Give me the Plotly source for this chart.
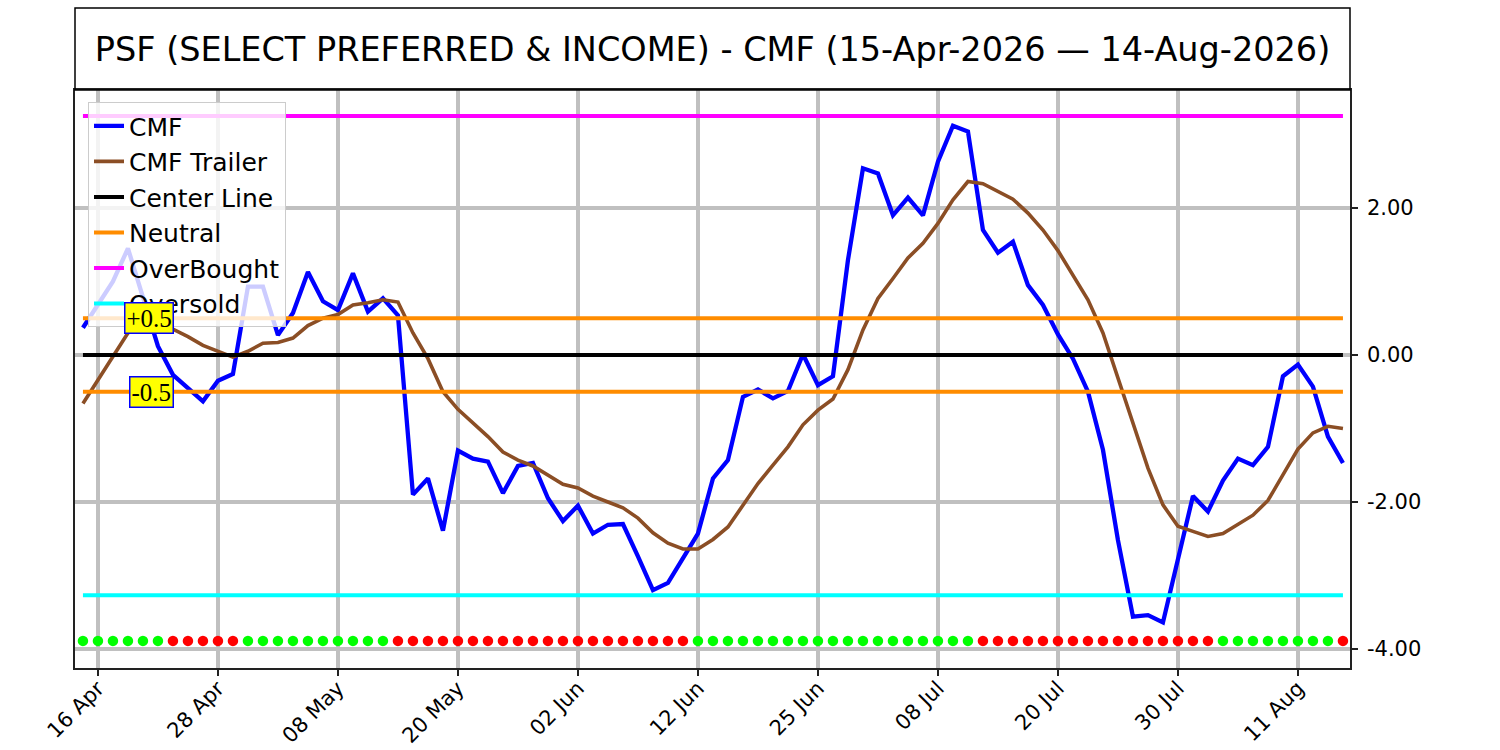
import pandas as pd
import plotly.graph_objects as go

# ---------------- data ----------------
START_DATE = "2026-04-15"
END_DATE = "2026-08-14"
HOLIDAYS = ["2026-05-25", "2026-06-19", "2026-07-03"]

TICK_DATES = ["2026-04-16", "2026-04-28", "2026-05-08", "2026-05-20", "2026-06-02",
              "2026-06-12", "2026-06-25", "2026-07-08", "2026-07-20", "2026-07-30",
              "2026-08-11"]
TICK_LABELS = ["16 Apr", "28 Apr", "08 May", "20 May", "02 Jun", "12 Jun",
               "25 Jun", "08 Jul", "20 Jul", "30 Jul", "11 Aug"]

Y_TICKS = [-4, -2, 0, 2]
Y_TICK_LABELS = ["-4.00", "-2.00", "0.00", "2.00"]

CMF = [0.37, 0.68, 1.00, 1.45, 0.78, 0.12, -0.27, -0.45, -0.63, -0.35,
       -0.26, 0.93, 0.93, 0.27, 0.57, 1.13, 0.73, 0.61, 1.11, 0.59,
       0.77, 0.54, -1.90, -1.68, -2.39, -1.30, -1.41, -1.45, -1.88, -1.51,
       -1.47, -1.95, -2.26, -2.05, -2.43, -2.31, -2.30, -2.74, -3.20, -3.10,
       -2.77, -2.43, -1.68, -1.43, -0.57, -0.47, -0.59, -0.49, 0.01, -0.41,
       -0.29, 1.29, 2.54, 2.47, 1.90, 2.14, 1.90, 2.63, 3.12, 3.04,
       1.70, 1.39, 1.54, 0.95, 0.68, 0.28, -0.05, -0.50, -1.29, -2.52,
       -3.56, -3.54, -3.64, -2.81, -1.92, -2.13, -1.71, -1.41, -1.50, -1.25,
       -0.29, -0.13, -0.43, -1.11, -1.47]

CMF_TRAILER = [-0.66, -0.34, -0.02, 0.30, 0.38, 0.41, 0.35, 0.25, 0.13, 0.05,
               -0.03, 0.05, 0.16, 0.17, 0.23, 0.40, 0.50, 0.55, 0.68, 0.71,
               0.75, 0.72, 0.30, -0.05, -0.50, -0.74, -0.93, -1.11, -1.32, -1.43,
               -1.51, -1.63, -1.76, -1.81, -1.92, -2.00, -2.08, -2.22, -2.42, -2.56,
               -2.64, -2.64, -2.51, -2.34, -2.04, -1.75, -1.50, -1.25, -0.95, -0.75,
               -0.60, -0.20, 0.34, 0.77, 1.04, 1.32, 1.52, 1.79, 2.11, 2.36,
               2.33, 2.22, 2.12, 1.93, 1.70, 1.42, 1.09, 0.75, 0.30, -0.32,
               -0.95, -1.54, -2.04, -2.33, -2.40, -2.47, -2.43, -2.30, -2.18, -1.98,
               -1.63, -1.28, -1.06, -0.97, -1.00]

# 1 = bullish (green dot), 0 = bearish (red dot)
SIGNAL = [1, 1, 1, 1, 1, 1, 0, 0, 0, 0,
          0, 1, 1, 1, 1, 1, 1, 1, 1, 1,
          1, 0, 0, 0, 0, 0, 0, 0, 0, 0,
          0, 0, 0, 0, 0, 0, 0, 0, 0, 0,
          0, 1, 1, 1, 1, 1, 1, 1, 1, 1,
          1, 1, 1, 1, 1, 1, 1, 1, 1, 1,
          0, 0, 0, 0, 0, 0, 0, 0, 0, 0,
          0, 0, 0, 0, 0, 0, 1, 1, 1, 1,
          1, 1, 1, 1, 0]

CENTER = 0.0
NEUTRAL_UP = 0.5
NEUTRAL_DN = -0.5
OVERBOUGHT = 3.25
OVERSOLD = -3.27
DOT_LEVEL = -3.89

TITLE = "PSF (SELECT PREFERRED & INCOME) - CMF (15-Apr-2026 \u2014 14-Aug-2026)"

# ---------------- build ----------------
dates = [d.strftime("%Y-%m-%d") for d in pd.bdate_range(START_DATE, END_DATE)
         if d.strftime("%Y-%m-%d") not in HOLIDAYS]
first, last = dates[0], dates[-1]

FONT = "DejaVu Sans"
GRID = "#c0c0c0"
AX = "#222222"

fig = go.Figure()

fig.add_trace(go.Scatter(x=dates, y=CMF, mode="lines", name="CMF",
                         line=dict(color="#0000ff", width=4.3)))
fig.add_trace(go.Scatter(x=dates, y=CMF_TRAILER, mode="lines", name="CMF Trailer",
                         line=dict(color="#8b4e25", width=3.6)))
fig.add_trace(go.Scatter(x=[first, last], y=[CENTER, CENTER], mode="lines",
                         name="Center Line", line=dict(color="#000000", width=4)))
fig.add_trace(go.Scatter(x=[first, last, None, first, last],
                         y=[NEUTRAL_UP, NEUTRAL_UP, None, NEUTRAL_DN, NEUTRAL_DN],
                         mode="lines", name="Neutral", connectgaps=False,
                         line=dict(color="#ff8c00", width=4)))
fig.add_trace(go.Scatter(x=[first, last], y=[OVERBOUGHT, OVERBOUGHT], mode="lines",
                         name="OverBought", line=dict(color="#ff00ff", width=4)))
fig.add_trace(go.Scatter(x=[first, last], y=[OVERSOLD, OVERSOLD], mode="lines",
                         name="Oversold", line=dict(color="#00ffff", width=4)))
fig.add_trace(go.Scatter(x=dates, y=[DOT_LEVEL] * len(dates), mode="markers",
                         showlegend=False, hoverinfo="skip",
                         marker=dict(size=10.5,
                                     color=["#00ff00" if s else "#ff0000" for s in SIGNAL],
                                     line=dict(width=0))))

# title box
fig.add_shape(type="rect", xref="paper", yref="paper", x0=0, x1=1, y0=1, y1=1.1419,
              line=dict(color="#000000", width=1.5), fillcolor="rgba(0,0,0,0)")

for txt, yv in (("+0.5", NEUTRAL_UP), ("-0.5", NEUTRAL_DN)):
    fig.add_annotation(x=6.1, y=yv, xref="x", yref="y", text=txt, showarrow=False,
                       xanchor="right", yanchor="middle",
                       font=dict(family="Liberation Serif", size=25, color="#000000"),
                       bgcolor="#ffff00", bordercolor="#0000ff", borderwidth=1.5,
                       borderpad=1)

fig.update_layout(
    width=1500, height=750,
    margin=dict(l=75, r=150, t=90, b=82, autoexpand=False),
    paper_bgcolor="#ffffff", plot_bgcolor="#ffffff",
    font=dict(family=FONT, size=21, color="#000000"),
    title=dict(text=TITLE, x=0.475, xref="container", xanchor="center",
               y=1 - 49 / 750, yref="container", yanchor="middle",
               font=dict(family=FONT, size=33.5, color="#000000")),
    showlegend=True,
    legend=dict(x=0.0102, y=0.979, xanchor="left", yanchor="top",
                bgcolor="rgba(255,255,255,0.8)", bordercolor="#cccccc", borderwidth=1,
                font=dict(family=FONT, size=25, color="#000000"),
                itemwidth=30, tracegroupgap=0),
    xaxis=dict(type="category", range=[-0.53, 84.47],
               tickmode="array", tickvals=TICK_DATES, ticktext=TICK_LABELS,
               tickangle=-45, ticks="outside", ticklen=6, tickwidth=1.5, tickcolor=AX,
               ticklabelstandoff=-8,
               tickfont=dict(family=FONT, size=21, color="#000000"),
               showgrid=True, gridcolor=GRID, gridwidth=4,
               showline=True, linecolor=AX, linewidth=1.5, mirror=True,
               zeroline=False, fixedrange=True),
    yaxis=dict(range=[-4.259, 3.605], side="right",
               tickmode="array", tickvals=Y_TICKS, ticktext=Y_TICK_LABELS,
               ticks="outside", ticklen=6, tickwidth=1.5, tickcolor=AX,
               ticklabelstandoff=5,
               tickfont=dict(family=FONT, size=21, color="#000000"),
               showgrid=True, gridcolor=GRID, gridwidth=4,
               showline=True, linecolor=AX, linewidth=1.5, mirror=True,
               zeroline=False, fixedrange=True),
)

fig.write_html("out.html", config={"displayModeBar": False},
               post_script="document.body.style.margin='0';document.body.style.overflow='hidden';")
